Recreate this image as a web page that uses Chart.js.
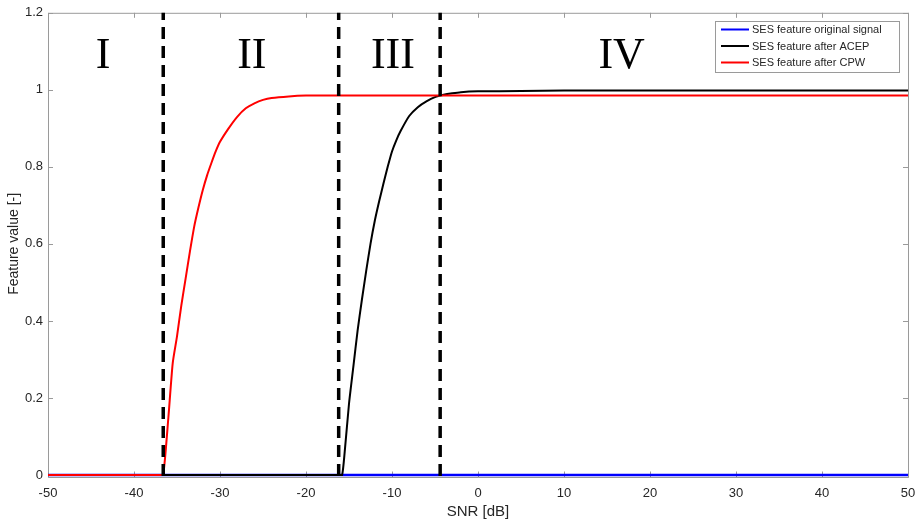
<!DOCTYPE html>
<html>
<head>
<meta charset="utf-8">
<script src="https://cdn.jsdelivr.net/npm/chart.js@4.4.1/dist/chart.umd.min.js"></script>
<style>
html,body{margin:0;padding:0;background:#fff;}
#wrap{width:918px;height:521px;position:relative;}
</style>
</head>
<body>
<div id="wrap"><canvas id="c" width="918" height="521"></canvas></div>
<script>
// ---- data ----
const snr = [-50,-40,-37,-36.6,
  -36,-35.5,-35,-34.5,-34,-33.5,-33,-32.5,-32,-31.5,-31,-30.5,-30,
  -29,-28,-27,-26,-25,-24,-22,-20,-18,
  -16.2,-15.8,
  -15.5,-15,-14.5,-14,-13.5,-13,-12.5,-12,-11.5,-11,-10.5,-10,-9.5,-9,
  -8,-7,-6,-5,-4,-3,-2,0,
  5,10,20,30,40,50];
const sesOriginal = [0,0,0,0,
  0,0,0,0,0,0,0,0,0,0,0,0,0,
  0,0,0,0,0,0,0,0,0,
  0,0,
  0,0,0,0,0,0,0,0,0,0,0,0,0,0,
  0,0,0,0,0,0,0,0,
  0,0,0,0,0,0];
const sesACEP = [0,0,0,0,
  0,0,0,0,0,0,0,0,0,0,0,0,0,
  0,0,0,0,0,0,0,0,0,
  0,0,
  0.06,0.185,0.28,0.375,0.455,0.53,0.60,0.66,0.71,0.756,0.80,0.84,0.869,0.893,
  0.932,0.955,0.970,0.981,0.987,0.991,0.994,0.996,
  0.997,0.998,0.998,0.998,0.998,0.998];
const sesCPW = [0,0,0,0,
  0.15,0.29,0.36,0.44,0.51,0.58,0.645,0.695,0.74,0.778,0.81,0.84,0.865,
  0.90,0.93,0.952,0.965,0.974,0.979,0.983,0.985,0.985,
  0.985,0.985,
  0.985,0.985,0.985,0.985,0.985,0.985,0.985,0.985,0.985,0.985,0.985,0.985,0.985,0.985,
  0.985,0.985,0.985,0.985,0.985,0.985,0.985,0.985,
  0.985,0.985,0.985,0.985,0.985,0.985];
const seriesLabels = ['SES feature original signal','SES feature after ACEP','SES feature after CPW'];
const seriesColors = ['#0000ff','#000000','#ff0000'];
const regionBounds = [-36.6,-16.2,-4.4];
const regionNames = ['I','II','III','IV'];
const regionLabelX = [-43.6,-26.3,-9.9,16.7];
const regionLabelY = 1.088;
const xTicks = [-50,-40,-30,-20,-10,0,10,20,30,40,50];
const yTicks = [0,0.2,0.4,0.6,0.8,1,1.2];

const toXY = arr => arr.map((v,i)=>({x:snr[i],y:v}));
const seriesValues = [sesOriginal, sesACEP, sesCPW];

const axisColor = '#9a9a9a';
const textColor = '#262626';

const boxPlugin = {
  id:'box',
  beforeDatasetsDraw(chart){
    const {ctx, chartArea:a, scales:{x,y}} = chart;
    ctx.save();
    const bot = a.bottom + 2.5;
    ctx.strokeStyle = axisColor; ctx.lineWidth = 1;
    ctx.beginPath();
    ctx.moveTo(a.left+0.5, bot); ctx.lineTo(a.right+0.5, bot);
    ctx.moveTo(a.left+0.5, a.top+0.5); ctx.lineTo(a.right+0.5, a.top+0.5);
    ctx.moveTo(a.left+0.5, a.top+0.5); ctx.lineTo(a.left+0.5, bot);
    ctx.moveTo(a.right+0.5, a.top+0.5); ctx.lineTo(a.right+0.5, bot);
    xTicks.forEach(t=>{
      const px = Math.round(x.getPixelForValue(t))+0.5;
      ctx.moveTo(px,bot); ctx.lineTo(px,bot-6);
      ctx.moveTo(px,a.top); ctx.lineTo(px,a.top+5);
    });
    yTicks.forEach(t=>{
      const py = Math.round(y.getPixelForValue(t))+0.5;
      ctx.moveTo(a.left,py); ctx.lineTo(a.left+5,py);
      ctx.moveTo(a.right,py); ctx.lineTo(a.right-5,py);
    });
    ctx.stroke();
    ctx.restore();
  }
};

const decorPlugin = {
  id:'decor',
  afterDatasetsDraw(chart){
    const {ctx, chartArea:a, scales:{x,y}} = chart;
    ctx.save();
    // region boundaries
    ctx.strokeStyle = '#000'; ctx.lineWidth = 3.5; ctx.setLineDash([12,7]);
    regionBounds.forEach(b=>{
      const px = x.getPixelForValue(b);
      ctx.beginPath();
      ctx.moveTo(px, y.getPixelForValue(0)+1);
      ctx.lineTo(px, y.getPixelForValue(1.2));
      ctx.stroke();
    });
    ctx.setLineDash([]);
    // region names
    ctx.fillStyle = '#000';
    ctx.font = '44px "Liberation Serif", "Times New Roman", serif';
    ctx.textAlign = 'center'; ctx.textBaseline = 'middle';
    regionNames.forEach((n,i)=>{
      ctx.fillText(n, x.getPixelForValue(regionLabelX[i]), y.getPixelForValue(regionLabelY));
    });
    // legend
    const lx = 715, ly = 21, lw = 184, lh = 51;
    ctx.fillStyle = '#fff';
    ctx.fillRect(lx, ly, lw, lh);
    ctx.strokeStyle = axisColor; ctx.lineWidth = 1;
    ctx.strokeRect(lx+0.5, ly+0.5, lw, lh);
    ctx.font = '11px "Liberation Sans", Arial, sans-serif';
    ctx.textAlign = 'left'; ctx.textBaseline = 'middle';
    seriesLabels.forEach((s,i)=>{
      const cy = ly + 8.5 + i*16.5;
      ctx.strokeStyle = seriesColors[i]; ctx.lineWidth = 2;
      ctx.beginPath(); ctx.moveTo(lx+6, cy); ctx.lineTo(lx+34, cy); ctx.stroke();
      ctx.fillStyle = textColor;
      ctx.fillText(s, lx+37, cy+0.5);
    });
    ctx.restore();
  }
};

new Chart(document.getElementById('c'), {
  type:'line',
  data:{
    datasets: seriesLabels.map((lab,i)=>({
      label: lab,
      data: toXY(seriesValues[i]),
      borderColor: seriesColors[i],
      backgroundColor: seriesColors[i],
      borderWidth: i===0 ? 2.5 : 2,
      pointRadius: 0,
      tension: 0.2,
      clip: false,
      fill: false,
      order: 3-i
    }))
  },
  options:{
    responsive:false,
    animation:false,
    devicePixelRatio:1,
    layout:{padding:{top:12,right:10,left:0,bottom:0}},
    plugins:{legend:{display:false},tooltip:{enabled:false}},
    scales:{
      x:{
        type:'linear', min:-50, max:50,
        afterBuildTicks(s){ s.ticks = xTicks.map(v=>({value:v})); },
        afterFit(s){ s.height = 46; s.paddingRight = 0; s.paddingLeft = 0; },
        grid:{display:false, drawTicks:false},
        border:{display:false},
        ticks:{color:textColor, font:{size:13, family:'"Liberation Sans", Arial, sans-serif'}, padding:11, maxRotation:0},
        title:{display:true, text:'SNR [dB]', color:textColor, font:{size:15, family:'"Liberation Sans", Arial, sans-serif'}, padding:{top:0,bottom:0}}
      },
      y:{
        min:0, max:1.2,
        afterBuildTicks(s){ s.ticks = yTicks.map(v=>({value:v})); },
        afterFit(s){ s.width = 48; },
        grid:{display:false, drawTicks:false},
        border:{display:false},
        ticks:{color:textColor, font:{size:13, family:'"Liberation Sans", Arial, sans-serif'}, padding:5,
          callback:(v)=>String(Math.round(v*10)/10)},
        title:{display:true, text:'Feature value [-]', color:textColor, font:{size:14, family:'"Liberation Sans", Arial, sans-serif'}, padding:{top:6,bottom:0}}
      }
    }
  },
  plugins:[boxPlugin, decorPlugin]
});
</script>
</body>
</html>
